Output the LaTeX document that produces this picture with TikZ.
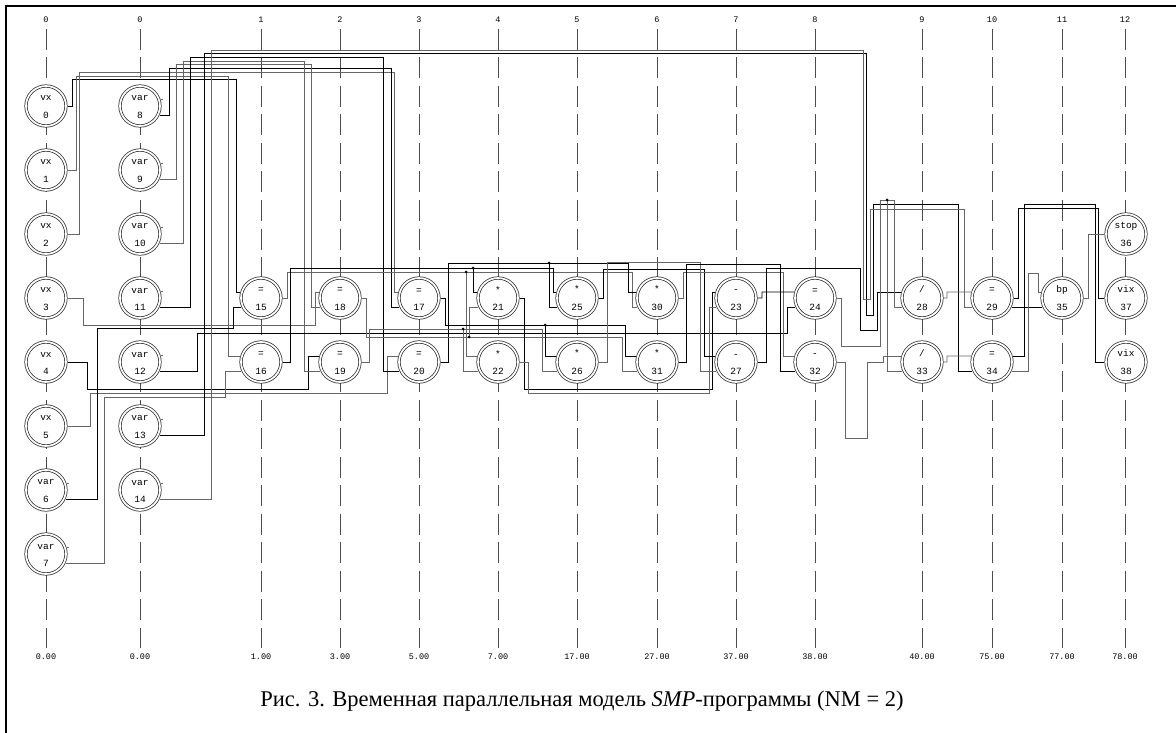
\documentclass[tikz,border=0pt]{standalone}
\usepackage{fontspec}
\setmainfont{Liberation Serif}
\setmonofont{Liberation Mono}
\begin{document}
\begin{tikzpicture}[x=1pt,y=-1pt,
  opnode/.style={circle,draw=black!80,line width=0.75pt,double=white,double distance=1.7pt,minimum size=40pt,inner sep=0pt,outer sep=1.6pt,fill=white,align=center,font=\ttfamily\fontsize{9.5}{17.5}\selectfont},
  collab/.style={font=\ttfamily\fontsize{8.5}{10}\selectfont,inner sep=1pt},
  guide/.style={draw=black!70,line width=0.7pt,dash pattern=on 21pt off 7.5pt},
  bk/.style={draw=black,line width=0.7pt},
  gr/.style={draw=black!60,line width=0.7pt},
  tickmark/.style={draw=black!60,line width=0.6pt},
  jdot/.style={fill=black}
]
\newcommand\mkop[4]{\node[opnode] (#1) at (#2,#3) {\rule{0pt}{7.5pt}#4};}
\useasboundingbox (0,0) rectangle (1176,733);
\fill[white] (0,0) rectangle (1176,733);
\draw[line width=2pt] (6,733) -- (6,6) -- (1176,6);

% column labels
\node[collab] (t0) at (46,20) {0};    \node[collab] (b0) at (46,657) {0.00};
\node[collab] (t1) at (140,20) {0};   \node[collab] (b1) at (140,657) {0.00};
\node[collab] (t2) at (261,20) {1};   \node[collab] (b2) at (261,657) {1.00};
\node[collab] (t3) at (340,20) {2};   \node[collab] (b3) at (340,657) {3.00};
\node[collab] (t4) at (419,20) {3};   \node[collab] (b4) at (419,657) {5.00};
\node[collab] (t5) at (498,20) {4};   \node[collab] (b5) at (498,657) {7.00};
\node[collab] (t6) at (577,20) {5};   \node[collab] (b6) at (577,657) {17.00};
\node[collab] (t7) at (657,20) {6};   \node[collab] (b7) at (657,657) {27.00};
\node[collab] (t8) at (736,20) {7};   \node[collab] (b8) at (736,657) {37.00};
\node[collab] (t9) at (815,20) {8};   \node[collab] (b9) at (815,657) {38.00};
\node[collab] (t10) at (922,20) {9};  \node[collab] (b10) at (922,657) {40.00};
\node[collab] (t11) at (992,20) {10}; \node[collab] (b11) at (992,657) {75.00};
\node[collab] (t12) at (1062,20) {11};\node[collab] (b12) at (1062,657) {77.00};
\node[collab] (t13) at (1125,20) {12};\node[collab] (b13) at (1125,657) {78.00};
\foreach \i in {0,...,13} \draw[guide] ([yshift=-9pt]t\i.center) -- ([yshift=9pt]b\i.center);

% nodes
\mkop{v0}{46}{106}{vx\\0}
\mkop{v1}{46}{170}{vx\\1}
\mkop{v2}{46}{234}{vx\\2}
\mkop{v3}{46}{298}{vx\\3}
\mkop{v4}{46}{362}{vx\\4}
\mkop{v5}{46}{426}{vx\\5}
\mkop{v6}{46}{490}{var\\6}
\mkop{v7}{46}{554}{var\\7}
\mkop{v8}{140}{106}{var\\8}
\mkop{v9}{140}{170}{var\\9}
\mkop{v10}{140}{234}{var\\10}
\mkop{v11}{140}{298}{var\\11}
\mkop{v12}{140}{362}{var\\12}
\mkop{v13}{140}{426}{var\\13}
\mkop{v14}{140}{490}{var\\14}
\mkop{n15}{261}{298}{=\\15}
\mkop{n16}{261}{362}{=\\16}
\mkop{n18}{340}{298}{=\\18}
\mkop{n19}{340}{362}{=\\19}
\mkop{n17}{419}{298}{=\\17}
\mkop{n20}{419}{362}{=\\20}
\mkop{n21}{498}{298}{*\\21}
\mkop{n22}{498}{362}{*\\22}
\mkop{n25}{577}{298}{*\\25}
\mkop{n26}{577}{362}{*\\26}
\mkop{n30}{657}{298}{*\\30}
\mkop{n31}{657}{362}{*\\31}
\mkop{n23}{736}{298}{-\\23}
\mkop{n27}{736}{362}{-\\27}
\mkop{n24}{815}{298}{=\\24}
\mkop{n32}{815}{362}{-\\32}
\mkop{n28}{922}{298}{/\\28}
\mkop{n33}{922}{362}{/\\33}
\mkop{n29}{992}{298}{=\\29}
\mkop{n34}{992}{362}{=\\34}
\mkop{n35}{1062}{298}{bp\\35}
\mkop{n36}{1126}{234}{stop\\36}
\mkop{n37}{1126}{298}{vix\\37}
\mkop{n38}{1126}{362}{vix\\38}
\foreach \v in {v6,v7,v8,v9,v10,v11,v12,v13,v14} \draw[tickmark] (\v.18) -- ++(2.5,0);

% inputs to assignments
\draw[bk] (v0.east) -| (72,79) -- (236,79) |- (n15.164);
\draw[gr] (v1.east) -| (76,76) -- (228,76) |- (n16.164);
\draw[gr] (v2.east) -| (79,72) -- (394,72) |- (n17.164);
\draw[gr] (v3.east) -| (83,325) -- (315,325) |- (n18.164);
\draw[bk] (v4.east) -| (87,389) -- (308,389) |- (n19.164);
\draw[gr] (v5.east) -| (90,393) -- (387,393) |- (n20.164);
\draw[bk] (v6.335) -| (97,328) -- (233,328) |- (n15.205);
\draw[gr] (v7.335) -| (104,397) -- (225,397) |- (n16.205);
\draw[bk] (v8.335) -| (169,68) -- (391,68) |- (n17.205);
\draw[gr] (v9.335) -| (176,64) -- (311,64) |- (n18.205);
\draw[gr] (v10.335) -| (183,61) -- (304,61) |- (n19.205);
\draw[bk] (v11.335) -| (190,57) -- (383,57) |- (n20.205);
\draw[bk] (v12.335) -| (197,333) -- (787,333) |- (n24.205);
\draw[bk] (v13.335) -| (204,53) -- (866,53) -- (866,315) -- (873,315) -- (873,204) -- (958,204) |- (n34.205);
\draw[gr] (v14.335) -| (211,50) -- (863,50) -- (863,299) -- (870,299) -- (870,209) -- (964,209) |- (n29.205);

% junctions
\coordinate (j1) at (466,272);
\coordinate (j2) at (473,268);
\coordinate (j3) at (463,329);
\coordinate (j4) at (469,337);
\coordinate (j5) at (549,263);
\coordinate (j6) at (545,325);
\coordinate (j7) at (887,200);

% outputs of assignments
\draw[gr] (n15.east) -| (287,272) -- (632,272) |- (n30.205);
\draw[gr] (j1) |- (n22.164);
\draw[bk] (n16.east) -| (290,268) -- (553,268) |- (n25.164);
\draw[bk] (j2) |- (n21.164);
\draw[bk] (n20.east) -| (448,263) -- (628,263) |- (n30.164);
\draw[bk] (j5) |- (n25.205);
\draw[gr] (n18.east) -| (366,337) -- (622,337) |- (n31.205);
\draw[gr] (j4) |- (n21.205);
\draw[gr] (n19.east) -| (369,329) -- (542,329) |- (n26.205);
\draw[gr] (j3) |- (n22.205);
\draw[bk] (n17.east) -| (445,325) -- (625,325) |- (n31.164);
\draw[bk] (j6) |- (n26.164);

% products
\draw[bk] (n21.east) -| (524,389) -- (712,389) |- (n23.164);
\draw[gr] (n22.east) -| (528,393) -- (709,393) |- (n23.205);
\draw[bk] (n25.east) -| (603,269) -- (704,269) |- (n27.164);
\draw[gr] (n26.east) -| (607,262) -- (700,262) |- (n27.205);
\draw[gr] (n30.east) -| (683,272) -- (783,272) |- (n32.164);
\draw[bk] (n31.east) -| (686,264) -- (780,264) |- (n32.205);

% differences
\draw[bk] (n23.east) -| (762,292) -- (n24.164);
\draw[bk] (n27.east) -| (766,268) -- (860,268) -- (860,330) -- (877,330) |- (n28.164);
\draw[gr] (n32.east) -| (845,438) -- (867,438) -- (867,362) -- (883,362) |- (n33.164);
\draw[gr] (n24.east) -| (841,346) -- (880,346) -- (880,200) -- (894,200) |- (n28.205);
\draw[gr] (j7) |- (n33.205);

% quotients and outputs
\draw[gr] (n28.east) -| (947,292) -- (n29.164);
\draw[gr] (n33.east) -| (947,356) -- (n34.164);
\draw[bk] (n29.east) -| (1018,208) -- (1098,208) |- (n37.west);
\draw[bk] (n29.335) -- (n35.205);
\draw[bk] (n34.16) -| (1024,204) -- (1095,204) |- (n38.west);
\draw[gr] (n34.335) -| (1028,273) -- (1038,273) |- (n35.164);
\draw[gr] (n35.east) -| (1088,234) -- (n36.west);

\foreach \j in {j1,j2,j3,j4,j5,j6,j7} \fill[jdot] (\j) circle (1.5pt);

\node[font=\fontsize{22.5}{26}\selectfont,inner sep=0pt] (cap) at (582,701) {Рис. 3. Временная параллельная модель \textit{SMP}-программы (NM = 2)};
\end{tikzpicture}
\end{document}
